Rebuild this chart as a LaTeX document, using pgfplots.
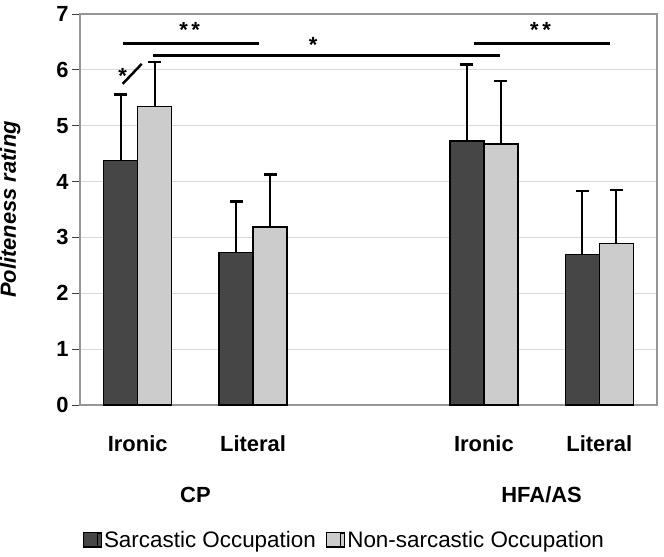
\documentclass[border=0pt]{standalone}
\usepackage{pgfplots}
\usepackage{pgfplotstable}
\pgfplotsset{compat=1.18}
\usepackage{fontspec}
\setmainfont{Liberation Sans}
\definecolor{darkbar}{RGB}{70,70,70}
\definecolor{lightbar}{RGB}{204,204,204}
\definecolor{gridc}{RGB}{217,217,217}
\definecolor{framec}{RGB}{150,150,150}

% x = category position, y = mean, e = upper error
\pgfplotstableread{
x  y     e
0  4.38  1.18
1  2.73  0.92
3  4.73  1.36
4  2.69  1.14
}\sarcastic
\pgfplotstableread{
x  y     e
0  5.34  0.80
1  3.19  0.93
3  4.67  1.13
4  2.89  0.96
}\nonsarcastic

\begin{document}
\begin{tikzpicture}
\begin{axis}[
  at={(0,0)}, anchor=south west,
  scale only axis, width=577bp, height=391bp,
  xmin=-0.5, xmax=4.5, ymin=0, ymax=7,
  xtick={0,1,3,4}, xticklabels={Ironic,Literal,Ironic,Literal},
  ytick={0,1,2,3,4,5,6,7},
  ytick pos=left,
  major x tick style={draw=none},
  ymajorgrids, grid style={gridc, line width=1.2bp},
  axis line style={framec, line width=1.5bp},
  y tick style={black!75, line width=1bp},
  tick align=outside, major tick length=8bp,
  /pgf/number format/assume math mode=true,
  ticklabel style={font=\fontsize{22}{26}\selectfont\bfseries},
  xticklabel style={anchor=base, yshift=-38bp},
  ylabel={Politeness rating},
  every axis y label/.style={at={(rel axis cs:0,0.5)}, xshift=-64bp, rotate=90, anchor=base, font=\fontsize{22}{26}\selectfont\bfseries\itshape},
  legend style={at={(0.458,-0.345)}, anchor=center, draw=none, fill=none,
    font=\fontsize{22.5}{26}\selectfont,
    /tikz/every even column/.append style={column sep=8bp}},
  legend columns=2,
  legend cell align=left,
  clip=false,
]
\addplot[ybar, bar width=34bp, bar shift=-17bp,
  fill=darkbar, draw=black, line width=1.5bp,
  legend image code/.code={\path (0bp,-7bp) rectangle (18bp,7bp);\draw[fill=darkbar, draw=black, line width=1bp] (0bp,-7bp) rectangle (14bp,7bp);}]
  table[x=x, y=y] {\sarcastic};
\addlegendentry{Sarcastic Occupation}
\addplot[ybar, bar width=34bp, bar shift=17bp,
  fill=lightbar, draw=black, line width=1.5bp,
  legend image code/.code={\path (0bp,-7bp) rectangle (18bp,7bp);\draw[fill=lightbar, draw=black, line width=1bp] (0bp,-7bp) rectangle (14bp,7bp);}]
  table[x=x, y=y] {\nonsarcastic};
\addlegendentry{Non-sarcastic Occupation}

% error bars: cap at mean + error, line down to the bar top, at each bar's centre (17bp = 0.1473 axis units)
\addplot[forget plot, only marks, mark=-, mark size=6.5bp, mark options={line width=2.8bp, black},
  error bars/.cd, y dir=minus, y explicit, error mark=none, error bar style={line width=2bp, black}]
  table[x expr=\thisrow{x}-0.1473, y expr=\thisrow{y}+\thisrow{e}, y error=e] {\sarcastic};
\addplot[forget plot, only marks, mark=-, mark size=6.5bp, mark options={line width=2.8bp, black},
  error bars/.cd, y dir=minus, y explicit, error mark=none, error bar style={line width=2bp, black}]
  table[x expr=\thisrow{x}+0.1473, y expr=\thisrow{y}+\thisrow{e}, y error=e] {\nonsarcastic};

% significance annotations
\draw[line width=3bp] (axis cs:-0.13,6.48) -- (axis cs:1.05,6.48);
\draw[line width=3bp] (axis cs:0.13,6.25) -- (axis cs:3.14,6.25);
\draw[line width=3bp] (axis cs:2.91,6.48) -- (axis cs:4.09,6.48);
\draw[line width=2.5bp] (axis cs:-0.13,5.75) -- (axis cs:0.035,6.107);
\node[anchor=base, font=\fontsize{22}{26}\selectfont\bfseries, inner sep=0pt] at ([yshift=6bp]axis cs:0.45,6.48) {*\,*};
\node[anchor=base, font=\fontsize{22}{26}\selectfont\bfseries, inner sep=0pt] at ([yshift=6bp]axis cs:3.49,6.48) {*\,*};
\node[anchor=base, font=\fontsize{22}{26}\selectfont\bfseries, inner sep=0pt] at ([yshift=3bp]axis cs:1.52,6.25) {*};
\node[anchor=base, font=\fontsize{22}{26}\selectfont\bfseries, inner sep=0pt] at (axis cs:-0.13,5.755) {*};

% group labels
\node[anchor=base, font=\fontsize{22}{26}\selectfont\bfseries, inner sep=0pt] at ([yshift=-97bp]axis cs:0.5,0) {CP};
\node[anchor=base, font=\fontsize{22}{26}\selectfont\bfseries, inner sep=0pt] at ([yshift=-97bp]axis cs:3.5,0) {HFA/AS};
\end{axis}
\pgfresetboundingbox
\path[use as bounding box] (-80bp,-152bp) rectangle (584bp,405bp);
\end{tikzpicture}
\end{document}
